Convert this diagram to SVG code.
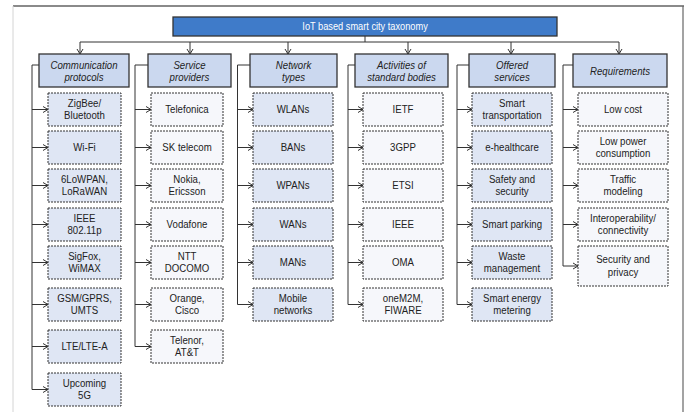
<svg xmlns="http://www.w3.org/2000/svg" width="689" height="412" viewBox="0 0 689 412">
<style>
text{font-family:"Liberation Sans",Arial,sans-serif;font-size:11.5px;fill:#222;text-anchor:middle;transform-box:fill-box;transform-origin:center;transform:scaleX(0.84)}
.title{fill:#fff;font-size:11px}
.hd{font-style:italic}
.hbox{fill:#cbd8ef;stroke:#333;stroke-width:1.3}
.cb{fill:#dfe6f4;stroke:#333;stroke-width:1;stroke-dasharray:2 1}
.cw{fill:#f6f7fb;stroke:#333;stroke-width:1;stroke-dasharray:2 1}
.ln{fill:none;stroke:#333;stroke-width:1}
.ar{fill:none;stroke:#333;stroke-width:1;marker-end:url(#ah)}
</style>
<defs>
<marker id="ah" markerUnits="userSpaceOnUse" markerWidth="7" markerHeight="8" refX="6" refY="4" orient="auto">
<path d="M1,1 L6,4 L1,7" fill="none" stroke="#333" stroke-width="1"/>
</marker>
</defs>
<rect width="689" height="412" fill="#fff"/>
<g id="frame">
<line x1="13" y1="6" x2="684" y2="6" stroke="#8a8a8a" stroke-width="2"/>
<line x1="13" y1="6" x2="13" y2="412" stroke="#d4d4d4" stroke-width="1"/>
<line x1="683" y1="6" x2="683" y2="412" stroke="#666" stroke-width="1.2"/>
</g>
<g id="connectors">
<path class="ln" d="M365,36 V42 M80,42 H619"/>
<path class="ar" d="M80,42 V54"/>
<path class="ar" d="M190,42 V54"/>
<path class="ar" d="M288,42 V54"/>
<path class="ar" d="M408,42 V54"/>
<path class="ar" d="M511,42 V54"/>
<path class="ar" d="M619,42 V54"/>
<!-- column 1 -->
<path class="ln" d="M39,65 H32 V389.5"/>
<path class="ar" d="M32,109.5 H48"/>
<path class="ar" d="M32,147.5 H48"/>
<path class="ar" d="M32,185.5 H48"/>
<path class="ar" d="M32,224.5 H48"/>
<path class="ar" d="M32,262.5 H48"/>
<path class="ar" d="M32,304.5 H48"/>
<path class="ar" d="M32,346.5 H48"/>
<path class="ar" d="M32,389.5 H48"/>
<!-- column 2 -->
<path class="ln" d="M148,65 H135 V346.5"/>
<path class="ar" d="M135,109.5 H151"/>
<path class="ar" d="M135,147.5 H151"/>
<path class="ar" d="M135,185.5 H151"/>
<path class="ar" d="M135,224.5 H151"/>
<path class="ar" d="M135,262.5 H151"/>
<path class="ar" d="M135,304.5 H151"/>
<path class="ar" d="M135,346.5 H151"/>
<!-- column 3 -->
<path class="ln" d="M250,65 H237.5 V304.5"/>
<path class="ar" d="M237.5,109.5 H253"/>
<path class="ar" d="M237.5,147.5 H253"/>
<path class="ar" d="M237.5,185.5 H253"/>
<path class="ar" d="M237.5,224.5 H253"/>
<path class="ar" d="M237.5,262.5 H253"/>
<path class="ar" d="M237.5,304.5 H253"/>
<!-- column 4 -->
<path class="ln" d="M355,65 H348 V304.5"/>
<path class="ar" d="M348,109.5 H363"/>
<path class="ar" d="M348,147.5 H363"/>
<path class="ar" d="M348,185.5 H363"/>
<path class="ar" d="M348,224.5 H363"/>
<path class="ar" d="M348,262.5 H363"/>
<path class="ar" d="M348,304.5 H363"/>
<!-- column 5 -->
<path class="ln" d="M469,65 H457 V304.5"/>
<path class="ar" d="M457,109.5 H472"/>
<path class="ar" d="M457,147.5 H472"/>
<path class="ar" d="M457,185.5 H472"/>
<path class="ar" d="M457,224.5 H472"/>
<path class="ar" d="M457,262.5 H472"/>
<path class="ar" d="M457,304.5 H472"/>
<!-- column 6 -->
<path class="ln" d="M573,65 H563 V266"/>
<path class="ar" d="M563,109.5 H578"/>
<path class="ar" d="M563,147.5 H578"/>
<path class="ar" d="M563,185.5 H578"/>
<path class="ar" d="M563,224.5 H578"/>
<path class="ar" d="M563,266 H578"/>
</g>
<g id="root"><rect x="173" y="17" width="384" height="19" fill="#3f7bc9" stroke="#333" stroke-width="1.3"/><text class="title" x="365" y="30.5">IoT based smart city taxonomy</text></g>
<!-- headers -->
<g id="h1"><rect class="hbox" x="39" y="54" width="90" height="33"/><text class="hd" x="84" y="69">Communication</text><text class="hd" x="84" y="81">protocols</text></g>
<g id="h2"><rect class="hbox" x="148" y="54" width="83" height="33"/><text class="hd" x="189.5" y="69">Service</text><text class="hd" x="189.5" y="81">providers</text></g>
<g id="h3"><rect class="hbox" x="250" y="54" width="87" height="33"/><text class="hd" x="293.5" y="69">Network</text><text class="hd" x="293.5" y="81">types</text></g>
<g id="h4"><rect class="hbox" x="355" y="54" width="93" height="33"/><text class="hd" x="401.5" y="69">Activities of</text><text class="hd" x="401.5" y="81">standard bodies</text></g>
<g id="h5"><rect class="hbox" x="469" y="54" width="86" height="33"/><text class="hd" x="512" y="69">Offered</text><text class="hd" x="512" y="81">services</text></g>
<g id="h6"><rect class="hbox" x="573" y="54" width="94" height="33"/><text class="hd" x="620" y="75">Requirements</text></g>
<!-- column 1 children -->
<g id="c1a"><rect class="cb" x="48" y="93" width="73" height="33"/><text x="84.5" y="107">ZigBee/</text><text x="84.5" y="119">Bluetooth</text></g>
<g id="c1b"><rect class="cb" x="48" y="131" width="73" height="33"/><text x="84.5" y="151.5">Wi-Fi</text></g>
<g id="c1c"><rect class="cb" x="48" y="169" width="73" height="33"/><text x="84.5" y="183">6LoWPAN,</text><text x="84.5" y="195">LoRaWAN</text></g>
<g id="c1d"><rect class="cb" x="48" y="208" width="73" height="33"/><text x="84.5" y="222">IEEE</text><text x="84.5" y="234">802.11p</text></g>
<g id="c1e"><rect class="cb" x="48" y="246" width="73" height="33"/><text x="84.5" y="260">SigFox,</text><text x="84.5" y="272">WiMAX</text></g>
<g id="c1f"><rect class="cb" x="48" y="288" width="73" height="33"/><text x="84.5" y="302">GSM/GPRS,</text><text x="84.5" y="314">UMTS</text></g>
<g id="c1g"><rect class="cb" x="48" y="330" width="73" height="33"/><text x="84.5" y="350.5">LTE/LTE-A</text></g>
<g id="c1h"><rect class="cb" x="48" y="373" width="73" height="33"/><text x="84.5" y="387">Upcoming</text><text x="84.5" y="399">5G</text></g>
<!-- column 2 children -->
<g id="c2a"><rect class="cw" x="151" y="93" width="72" height="33"/><text x="187" y="113.5">Telefonica</text></g>
<g id="c2b"><rect class="cw" x="151" y="131" width="72" height="33"/><text x="187" y="151.5">SK telecom</text></g>
<g id="c2c"><rect class="cw" x="151" y="169" width="72" height="33"/><text x="187" y="183">Nokia,</text><text x="187" y="195">Ericsson</text></g>
<g id="c2d"><rect class="cw" x="151" y="208" width="72" height="33"/><text x="187" y="228.5">Vodafone</text></g>
<g id="c2e"><rect class="cw" x="151" y="246" width="72" height="33"/><text x="187" y="260">NTT</text><text x="187" y="272">DOCOMO</text></g>
<g id="c2f"><rect class="cw" x="151" y="288" width="72" height="33"/><text x="187" y="302">Orange,</text><text x="187" y="314">Cisco</text></g>
<g id="c2g"><rect class="cw" x="151" y="330" width="72" height="33"/><text x="187" y="344">Telenor,</text><text x="187" y="356">AT&amp;T</text></g>
<!-- column 3 children -->
<g id="c3a"><rect class="cb" x="253" y="93" width="80" height="33"/><text x="293" y="113.5">WLANs</text></g>
<g id="c3b"><rect class="cb" x="253" y="131" width="80" height="33"/><text x="293" y="151.5">BANs</text></g>
<g id="c3c"><rect class="cb" x="253" y="169" width="80" height="33"/><text x="293" y="189.5">WPANs</text></g>
<g id="c3d"><rect class="cb" x="253" y="208" width="80" height="33"/><text x="293" y="228.5">WANs</text></g>
<g id="c3e"><rect class="cb" x="253" y="246" width="80" height="33"/><text x="293" y="266.5">MANs</text></g>
<g id="c3f"><rect class="cb" x="253" y="288" width="80" height="33"/><text x="293" y="302">Mobile</text><text x="293" y="314">networks</text></g>
<!-- column 4 children -->
<g id="c4a"><rect class="cw" x="363" y="93" width="80" height="33"/><text x="403" y="113.5">IETF</text></g>
<g id="c4b"><rect class="cw" x="363" y="131" width="80" height="33"/><text x="403" y="151.5">3GPP</text></g>
<g id="c4c"><rect class="cw" x="363" y="169" width="80" height="33"/><text x="403" y="189.5">ETSI</text></g>
<g id="c4d"><rect class="cw" x="363" y="208" width="80" height="33"/><text x="403" y="228.5">IEEE</text></g>
<g id="c4e"><rect class="cw" x="363" y="246" width="80" height="33"/><text x="403" y="266.5">OMA</text></g>
<g id="c4f"><rect class="cw" x="363" y="288" width="80" height="33"/><text x="403" y="302">oneM2M,</text><text x="403" y="314">FIWARE</text></g>
<!-- column 5 children -->
<g id="c5a"><rect class="cb" x="472" y="93" width="80" height="33"/><text x="512" y="107">Smart</text><text x="512" y="119">transportation</text></g>
<g id="c5b"><rect class="cb" x="472" y="131" width="80" height="33"/><text x="512" y="151.5">e-healthcare</text></g>
<g id="c5c"><rect class="cb" x="472" y="169" width="80" height="33"/><text x="512" y="183">Safety and</text><text x="512" y="195">security</text></g>
<g id="c5d"><rect class="cb" x="472" y="208" width="80" height="33"/><text x="512" y="228.5">Smart parking</text></g>
<g id="c5e"><rect class="cb" x="472" y="246" width="80" height="33"/><text x="512" y="260">Waste</text><text x="512" y="272">management</text></g>
<g id="c5f"><rect class="cb" x="472" y="288" width="80" height="33"/><text x="512" y="302">Smart energy</text><text x="512" y="314">metering</text></g>
<!-- column 6 children -->
<g id="c6a"><rect class="cw" x="578" y="93" width="90" height="33"/><text x="623" y="113.5">Low cost</text></g>
<g id="c6b"><rect class="cw" x="578" y="131" width="90" height="33"/><text x="623" y="145">Low power</text><text x="623" y="157">consumption</text></g>
<g id="c6c"><rect class="cw" x="578" y="169" width="90" height="33"/><text x="623" y="183">Traffic</text><text x="623" y="195">modeling</text></g>
<g id="c6d"><rect class="cw" x="578" y="208" width="90" height="33"/><text x="623" y="222">Interoperability/</text><text x="623" y="234">connectivity</text></g>
<g id="c6e"><rect class="cw" x="578" y="246" width="90" height="40"/><text x="623" y="263">Security and</text><text x="623" y="276">privacy</text></g>
</svg>
